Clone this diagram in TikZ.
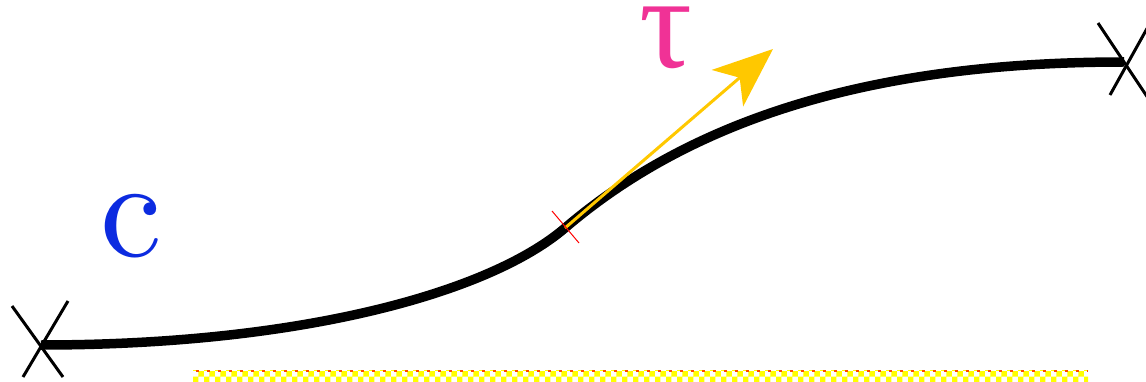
\documentclass[tikz,border=0pt]{standalone}
\usepackage{fontspec}
\newfontfamily\greekserif{Liberation Serif}
\usetikzlibrary{arrows.meta,patterns}
\definecolor{curvblue}{RGB}{12,43,224}
\definecolor{taupink}{RGB}{240,50,150}
\definecolor{arrowgold}{RGB}{255,200,0}
\tikzset{
  curveline/.style={line width=9.5pt,black},
  crossline/.style={line width=3pt,black},
  tangentarrow/.style={line width=3pt,arrowgold,-{Stealth[length=60pt,width=48pt,inset=16pt]}},
  tickline/.style={line width=1pt,red},
  biglabel/.style={inner sep=0pt,anchor=base},
}
\begin{document}
\begin{tikzpicture}[x=1pt,y=-1pt]
\useasboundingbox (0,0) rectangle (1146,382);
% coordinates
\coordinate (A) at (41,345);
\coordinate (M) at (565,228);
\coordinate (B) at (1124,62);
\coordinate (T) at (773,49);
% bar at bottom
\fill[pattern=checkerboard,pattern color=yellow] (193,370) rectangle (1088,381);
\draw[red!70!yellow,line width=2pt,dash pattern=on 3pt off 8pt] (196,371) -- (1088,371);
% curve
\draw[curveline] (A) .. controls (300,345) and (489,293) .. (M)
                     .. controls (702,111) and (890,62) .. (B);
% crosses
\draw[crossline] ([shift={(-29,-39)}]A) -- ([shift={(22,32)}]A);
\draw[crossline] ([shift={(27,-44)}]A) -- ([shift={(-18,32)}]A);
\draw[crossline] ([shift={(-26,-39)}]B) -- ([shift={(26,39)}]B);
\draw[crossline] ([shift={(-14,33)}]B) -- ([shift={(30,-46)}]B);
% tangent arrow
\draw[tangentarrow] (M) -- (T);
% tick
\draw[tickline] ([shift={(-13,-17)}]M) -- ([shift={(14,15)}]M);
% labels
\node[biglabel,text=curvblue,scale=13.9] (c) at (131,257) {c};
\node[biglabel,text=taupink] (tau) at (666,68) {\greekserif\fontsize{132}{132}\selectfont τ};
\end{tikzpicture}
\end{document}
